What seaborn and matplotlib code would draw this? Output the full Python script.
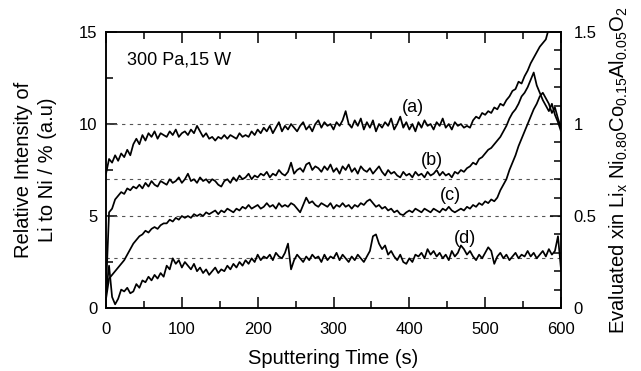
import numpy as np
import matplotlib
matplotlib.use("Agg")
import matplotlib.pyplot as plt
from matplotlib.ticker import MultipleLocator
import seaborn as sns

# sputtering time grid (s), one reading every 4 s
time = np.arange(0, 601, 4)

# relative intensity Li/Ni (%)
curve_a = [7.3, 8.1, 7.9, 8.3, 8.0, 8.4, 8.2, 8.6, 8.3, 8.9,
           9.2, 8.9, 9.4, 9.1, 9.5, 9.3, 9.6, 9.2, 9.5, 9.4,
           9.3, 9.6, 9.4, 9.7, 9.3, 9.5, 9.6, 9.4, 9.7, 9.5,
           9.9, 9.6, 9.3, 9.5, 9.2, 9.3, 9.1, 9.3, 9.2, 9.4,
           9.2, 9.4, 9.3, 9.2, 9.5, 9.3, 9.4, 9.3, 9.6, 9.4,
           9.7, 9.5, 9.8, 9.6, 9.9, 9.5, 9.8, 10.1, 9.6, 9.9,
           9.7, 10.0, 9.8, 9.6, 9.9, 10.1, 9.7, 9.9, 9.6, 10.0,
           10.2, 9.8, 10.1, 9.9, 10.0, 9.7, 10.1, 9.9, 10.2, 10.7,
           10.0, 9.8, 10.2, 9.9, 10.3, 9.7, 10.1, 9.8, 10.2, 9.6,
           10.0, 9.8, 10.1, 9.9, 10.3, 9.7, 10.0, 10.4, 9.8, 10.1,
           9.7, 10.0, 9.6, 10.1, 9.8, 10.2, 9.9, 10.0, 9.7, 10.1,
           9.9, 10.3, 9.8, 10.0, 9.7, 10.1, 9.9, 10.0, 9.8, 9.9,
           9.8, 10.2, 10.4, 10.3, 10.6, 10.5, 10.7, 10.6, 10.9, 10.8,
           11.1, 11.0, 11.3, 11.5, 11.8, 11.9, 12.3, 12.2, 12.6, 12.9,
           13.3, 13.6, 13.9, 14.2, 14.4, 14.6, 15.2, 15.8, 16.3, 16.8,
           17.2]

curve_b = [1.0, 5.2, 5.4, 5.9, 6.1, 6.3, 6.2, 6.5, 6.4, 6.6,
           6.5, 6.7, 6.5, 6.8, 6.6, 6.9, 6.7, 6.6, 6.9, 6.8,
           6.7, 7.0, 6.8, 6.9, 7.1, 6.8, 7.0, 7.3, 6.9, 7.0,
           6.8, 7.1, 6.9, 7.0, 6.8, 7.0, 6.9, 6.7, 6.6, 6.9,
           7.0, 6.8, 7.1, 6.9, 7.2, 7.0, 7.1, 7.3, 7.0, 7.2,
           7.1, 7.3, 7.2, 7.4, 7.1, 7.3, 7.2, 7.5, 7.3, 7.2,
           7.4, 7.9, 7.3, 7.5, 7.6, 7.4, 7.8, 7.9, 7.5, 7.7,
           7.6, 7.4, 7.7, 7.5, 7.8, 7.4, 7.6, 7.3, 7.7, 7.5,
           7.8, 7.4, 7.6, 7.3, 7.7, 7.5, 7.4, 7.6, 7.3, 7.5,
           7.7, 7.4, 7.2, 7.5, 7.3, 7.4, 7.2, 7.1, 7.4, 7.2,
           7.3, 7.1, 7.4, 7.2, 7.3, 7.1, 7.4, 7.2, 7.3, 7.5,
           7.2, 7.4, 7.2, 7.3, 7.1, 7.4, 7.3, 7.5, 7.4, 7.6,
           7.7, 7.9, 7.8, 8.1, 8.2, 8.4, 8.6, 8.7, 8.9, 9.1,
           9.3, 9.6, 9.9, 10.3, 10.6, 10.8, 11.1, 11.5, 11.7, 12.0,
           12.4, 12.8, 12.1, 11.7, 11.3, 11.0, 10.7, 11.1, 10.5, 10.1,
           9.6]

curve_c = [0.5, 1.6, 1.8, 2.0, 2.2, 2.4, 2.6, 2.9, 3.2, 3.5,
           3.7, 3.9, 4.0, 4.2, 4.1, 4.3, 4.4, 4.3, 4.5, 4.6,
           4.6, 4.8, 4.7, 4.9, 4.8, 5.0, 4.9, 5.0, 4.9, 5.1,
           5.0, 5.1, 5.0, 5.2, 5.1, 5.2, 5.3, 5.1, 5.3, 5.2,
           5.4, 5.3, 5.2, 5.4, 5.3, 5.5, 5.4, 5.6, 5.4, 5.5,
           5.6, 5.4, 5.5, 5.7, 5.5, 5.6, 5.4, 5.7, 5.5, 5.6,
           5.5, 5.7, 5.6, 5.4, 5.2, 5.6, 6.0, 5.7, 5.8, 5.6,
           5.5, 5.7, 5.6, 5.5, 5.7, 5.4, 5.6, 5.5, 5.7, 5.5,
           5.6, 5.4, 5.6, 5.5, 5.7, 5.6, 5.8, 5.9, 5.7, 5.5,
           5.6, 5.4, 5.5, 5.3, 5.4, 5.2, 5.3, 5.1, 5.05, 5.2,
           5.3, 5.2, 5.4, 5.3, 5.2, 5.4, 5.3, 5.2, 5.4, 5.3,
           5.2, 5.4, 5.3, 5.5, 5.3, 5.2, 5.3, 5.4, 5.3, 5.5,
           5.4, 5.6, 5.5, 5.7, 5.6, 5.8, 5.7, 5.9, 5.8, 6.0,
           6.4, 6.7, 7.0, 7.5, 7.9, 8.3, 8.8, 9.2, 9.6, 10.0,
           10.4, 10.8, 11.1, 11.5, 11.7, 11.4, 11.1, 10.6, 10.9, 10.3,
           9.8]

curve_d = [0.8, 2.3, 0.6, 0.2, 0.5, 1.0, 0.9, 1.1, 0.8, 0.9,
           1.3, 1.1, 1.5, 1.4, 1.7, 1.5, 1.8, 1.6, 1.9, 1.7,
           2.3, 2.1, 2.7, 2.4, 2.6, 2.2, 2.5, 2.3, 2.1, 2.4,
           2.0, 2.2, 1.9, 2.1, 1.8, 2.0, 2.2, 1.9, 2.1, 2.0,
           2.3, 2.1, 2.4, 2.2, 2.5, 2.3, 2.6, 2.4, 2.7, 2.5,
           2.9, 2.6, 2.8, 2.7, 2.9, 2.6, 3.0, 2.8, 2.7, 3.0,
           3.5, 2.1, 2.6, 2.9, 2.7, 2.5, 2.8, 2.6, 2.9, 2.7,
           2.8, 2.5, 2.9, 2.6, 2.8, 2.7, 3.0, 2.6, 2.9, 2.7,
           2.5, 2.8, 2.6, 2.9, 2.7, 2.5, 2.8, 3.1, 3.9, 4.0,
           3.5, 3.2, 3.4, 2.9, 3.1, 2.8, 2.6, 2.9, 2.5, 2.4,
           2.7, 2.5, 2.9, 2.8, 3.0, 2.7, 3.2, 2.9, 3.1, 2.8,
           3.0, 2.7, 2.9, 2.6, 3.1, 2.8, 3.0, 3.4, 3.2, 2.9,
           3.1, 2.8, 2.6, 2.9, 2.7, 3.0, 3.3, 3.1, 2.4, 2.8,
           3.0, 2.7, 2.9, 2.6, 2.8, 3.0, 2.7, 2.9, 2.8, 3.1,
           2.8, 3.0, 2.7, 2.9, 3.1, 2.8, 3.2, 2.9, 3.1, 3.9,
           2.1]

curves = [curve_a, curve_b, curve_c, curve_d]
labels = ["(a)", "(b)", "(c)", "(d)"]
label_pos = [(405, 10.9), (430, 8.0), (454, 6.1), (473, 3.8)]
ref_levels = [10, 7, 5, 2.7]

sns.set_style("ticks")
plt.rcParams["font.family"] = ["Liberation Sans", "DejaVu Sans"]
plt.rcParams["mathtext.fontset"] = "custom"
plt.rcParams["mathtext.rm"] = "Liberation Sans"
plt.rcParams["mathtext.it"] = "Liberation Sans:italic"
plt.rcParams["mathtext.default"] = "regular"
plt.rcParams["text.color"] = "black"
plt.rcParams["axes.labelcolor"] = "black"

fig = plt.figure(figsize=(6.41, 3.71), dpi=100)
ax = fig.add_axes([0.1654, 0.1698, 0.7098, 0.7439])

for lvl in ref_levels:
    ax.axhline(lvl, color="#555555", lw=0.8, ls=(0, (3, 4)), zorder=1)

for vals in curves:
    sns.lineplot(x=time, y=vals, ax=ax, color="black", lw=1.25, zorder=2)

for lab, (tx, ty) in zip(labels, label_pos):
    ax.text(tx, ty, lab, fontsize=13, ha="center", va="center")

ax.text(0.046, 0.899, "300 Pa,15 W", transform=ax.transAxes,
        fontsize=13, ha="left", va="center")

ax.set_xlim(0, 600)
ax.set_ylim(0, 15)
ax.xaxis.set_major_locator(MultipleLocator(100))
ax.xaxis.set_minor_locator(MultipleLocator(50))
ax.yaxis.set_major_locator(MultipleLocator(5))
ax.yaxis.set_minor_locator(MultipleLocator(2.5))
ax.tick_params(which="both", direction="in", top=True, bottom=True,
               left=True, right=False, width=1.1, color="black",
               labelcolor="black")
ax.tick_params(which="major", length=8, labelsize=12)
ax.tick_params(which="minor", length=5)
ax.tick_params(axis="x", which="major", pad=10)
ax.tick_params(axis="y", which="major", pad=6)
ax.set_xlabel("Sputtering Time (s)", fontsize=14.5, labelpad=9)
ax.set_ylabel("Relative Intensity of\nLi to Ni / % (a.u)", fontsize=14.5,
              labelpad=16, linespacing=1.3)
for s in ax.spines.values():
    s.set_linewidth(1.1)
    s.set_color("black")

ax2 = ax.twinx()
ax2.set_ylim(0, 1.5)
ax2.yaxis.set_major_locator(MultipleLocator(0.5))
ax2.yaxis.set_minor_locator(MultipleLocator(0.1))
ax2.yaxis.set_major_formatter(plt.FuncFormatter(lambda v, p: f"{v:g}"))
ax2.tick_params(which="both", direction="in", right=True, width=1.1,
                color="black", labelcolor="black")
ax2.tick_params(which="major", length=8, labelsize=12, pad=9)
ax2.tick_params(which="minor", length=5)
ax2.set_ylabel(r"Evaluated xin Li$_x$ Ni$_{0.80}$Co$_{0.15}$Al$_{0.05}$O$_2$",
               fontsize=14.5, labelpad=8)
for s in ax2.spines.values():
    s.set_linewidth(1.1)
    s.set_color("black")

fig.savefig("out.png", dpi=100)
